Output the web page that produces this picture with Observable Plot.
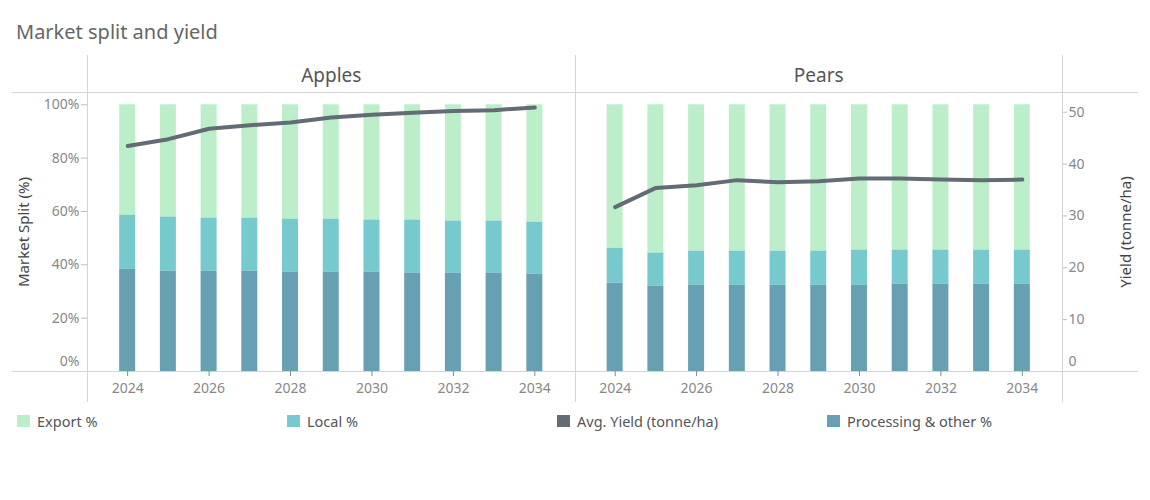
<!DOCTYPE html>
<html>
<head>
<meta charset="utf-8">
<script src="https://cdn.jsdelivr.net/npm/d3@7"></script>
<script src="https://cdn.jsdelivr.net/npm/@observablehq/plot@0.6"></script>
<style>
  body { margin: 0; background: #fff; font-family: "Noto Sans", Lato, sans-serif; }
  #title { height: 55px; box-sizing: border-box; padding: 19px 0 0 16px; line-height: 26px; font-size: 20px; color: #666; }
  #legend { position: relative; height: 30px; margin-top: 6px; font-size: 14.5px; color: #555; }
  .item { position: absolute; top: 0; display: flex; align-items: center; line-height: 20px; }
  .sw { width: 13px; height: 12px; margin-right: 7px; }
</style>
</head>
<body>
<div id="title">Market split and yield</div>
<div id="chart"></div>
<div id="legend"></div>
<script>
const years = [2024, 2025, 2026, 2027, 2028, 2029, 2030, 2031, 2032, 2033, 2034];
const fruits = ["Apples", "Pears"];
const seriesNames = ["Export %", "Local %", "Processing & other %"];
const lineName = "Avg. Yield (tonne/ha)";

const applesProcessing = [38.3, 37.6, 37.6, 37.6, 37.2, 37.2, 37.2, 36.8, 36.8, 36.8, 36.5];
const applesLocal      = [20.3, 20.3, 19.9, 19.9, 19.9, 19.9, 19.6, 20.0, 19.6, 19.6, 19.5];
const applesExport     = [41.4, 42.1, 42.5, 42.5, 42.9, 42.9, 43.2, 43.2, 43.6, 43.6, 44.0];
const pearsProcessing  = [33.1, 32.0, 32.3, 32.3, 32.3, 32.3, 32.3, 32.7, 32.7, 32.7, 32.7];
const pearsLocal       = [13.1, 12.4, 12.8, 12.8, 12.8, 12.8, 13.2, 12.8, 12.8, 12.8, 12.8];
const pearsExport      = [53.8, 55.6, 54.9, 54.9, 54.9, 54.9, 54.5, 54.5, 54.5, 54.5, 54.5];
const applesYield      = [43.5, 44.8, 46.8, 47.5, 48.0, 49.0, 49.5, 49.9, 50.25, 50.4, 50.9];
const pearsYield       = [31.7, 35.4, 35.9, 36.9, 36.5, 36.7, 37.2, 37.2, 37.0, 36.9, 37.0];

const pctTicks = [20, 40, 60, 80, 100];
const yieldTicks = [10, 20, 30, 40, 50];
const yearTicks = [2024, 2026, 2028, 2030, 2032, 2034];

const colors = { "Export %": "#bcefc9", "Local %": "#76c9cd", "Processing & other %": "#67a0b2", [lineName]: "#636b75" };

const pctMax = 104.6, yieldMax = 53.8;
const conv = d3.scaleLinear([0, yieldMax], [0, pctMax]);

const shares = {
  Apples: { "Export %": applesExport, "Local %": applesLocal, "Processing & other %": applesProcessing },
  Pears:  { "Export %": pearsExport,  "Local %": pearsLocal,  "Processing & other %": pearsProcessing }
};
const yields = { Apples: applesYield, Pears: pearsYield };

const barData = [];
const lineData = [];
for (const f of fruits) {
  years.forEach((yr, i) => {
    for (const s of seriesNames) barData.push({ fruit: f, year: yr, series: s, value: shares[f][s][i] });
    lineData.push({ fruit: f, year: yr, yield: yields[f][i] });
  });
}
const stackOrder = ["Processing & other %", "Local %", "Export %"];

const H = 350;
const plot = Plot.plot({
  width: 1150, height: H,
  marginTop: 37, marginBottom: 34, marginLeft: 87, marginRight: 88,
  style: { fontFamily: "'Noto Sans', Lato, sans-serif", fontSize: "14px", color: "#888", background: "transparent" },
  fx: { domain: fruits, padding: 0, round: false, label: null },
  x: { type: "band", domain: years, paddingInner: 0.607, paddingOuter: 0.79, round: false, label: null },
  y: { domain: [0, pctMax], label: null },
  color: { domain: Object.keys(colors), range: Object.values(colors) },
  marks: [
    Plot.barY(barData, { fx: "fruit", x: "year", y: "value", fill: "series", order: stackOrder }),
    Plot.lineY(lineData, { fx: "fruit", x: "year", y: d => conv(d.yield), stroke: colors[lineName], strokeWidth: 4, strokeLinecap: "round", strokeLinejoin: "round" }),
    Plot.axisFx({ anchor: "top", tickSize: 0, tickPadding: 11, label: null, fontSize: 19, fill: "#555" }),
    Plot.axisX({ ticks: yearTicks, tickFormat: d => String(d), tickSize: 5, tickPadding: 7, label: null, stroke: "#888" }),
    Plot.axisY({ anchor: "left", ticks: pctTicks, tickFormat: d => d + "%", tickSize: 6, tickPadding: 2, stroke: "#bbb",
      label: "Market Split (%)", labelAnchor: "center", labelArrow: "none", labelOffset: 69 }),
    Plot.axisY({ anchor: "left", ticks: [0], tickFormat: d => d + "%", tickSize: 0, tickPadding: 8, dy: -10, label: null }),
    Plot.axisY({ anchor: "right", ticks: yieldTicks.map(conv), tickFormat: d => String(Math.round(conv.invert(d))), tickSize: 4, tickPadding: 2, stroke: "#bbb",
      label: "Yield (tonne/ha)", labelAnchor: "center", labelArrow: "none", labelOffset: 68 }),
    Plot.axisY({ anchor: "right", ticks: [0], tickFormat: d => String(d), tickSize: 0, tickPadding: 6, dy: -10, label: null })
  ]
});
document.getElementById("chart").appendChild(plot);

// separators
const svg = d3.select(plot);
const fx = plot.scale("fx"), y = plot.scale("y");
const bw = fx.bandwidth;
const g = svg.insert("g", ":first-child").attr("stroke", "#d4d4d4").attr("stroke-width", 1);
const xs = fruits.map(f => fx.apply(f)).concat([fx.apply(fruits[fruits.length - 1]) + bw]);
xs.forEach(x => g.append("line").attr("x1", Math.round(x) + 0.5).attr("x2", Math.round(x) + 0.5).attr("y1", 0).attr("y2", H - 3));
[y.apply(pctMax), y.apply(0)].forEach(yy => g.append("line").attr("x1", 12).attr("x2", 1138).attr("y1", Math.round(yy) + 0.5).attr("y2", Math.round(yy) + 0.5));
svg.selectAll('g[aria-label="y-axis label"] text').attr("fill", "#444").style("font-size", "15px");

// legend
const legendOrder = ["Export %", "Local %", lineName, "Processing & other %"];
const leg = d3.select("#legend");
legendOrder.forEach((name, i) => {
  const it = leg.append("div").attr("class", "item").style("left", (17 + i * 270) + "px");
  it.append("div").attr("class", "sw").style("background", colors[name]);
  it.append("span").text(name);
});
</script>
</body>
</html>
